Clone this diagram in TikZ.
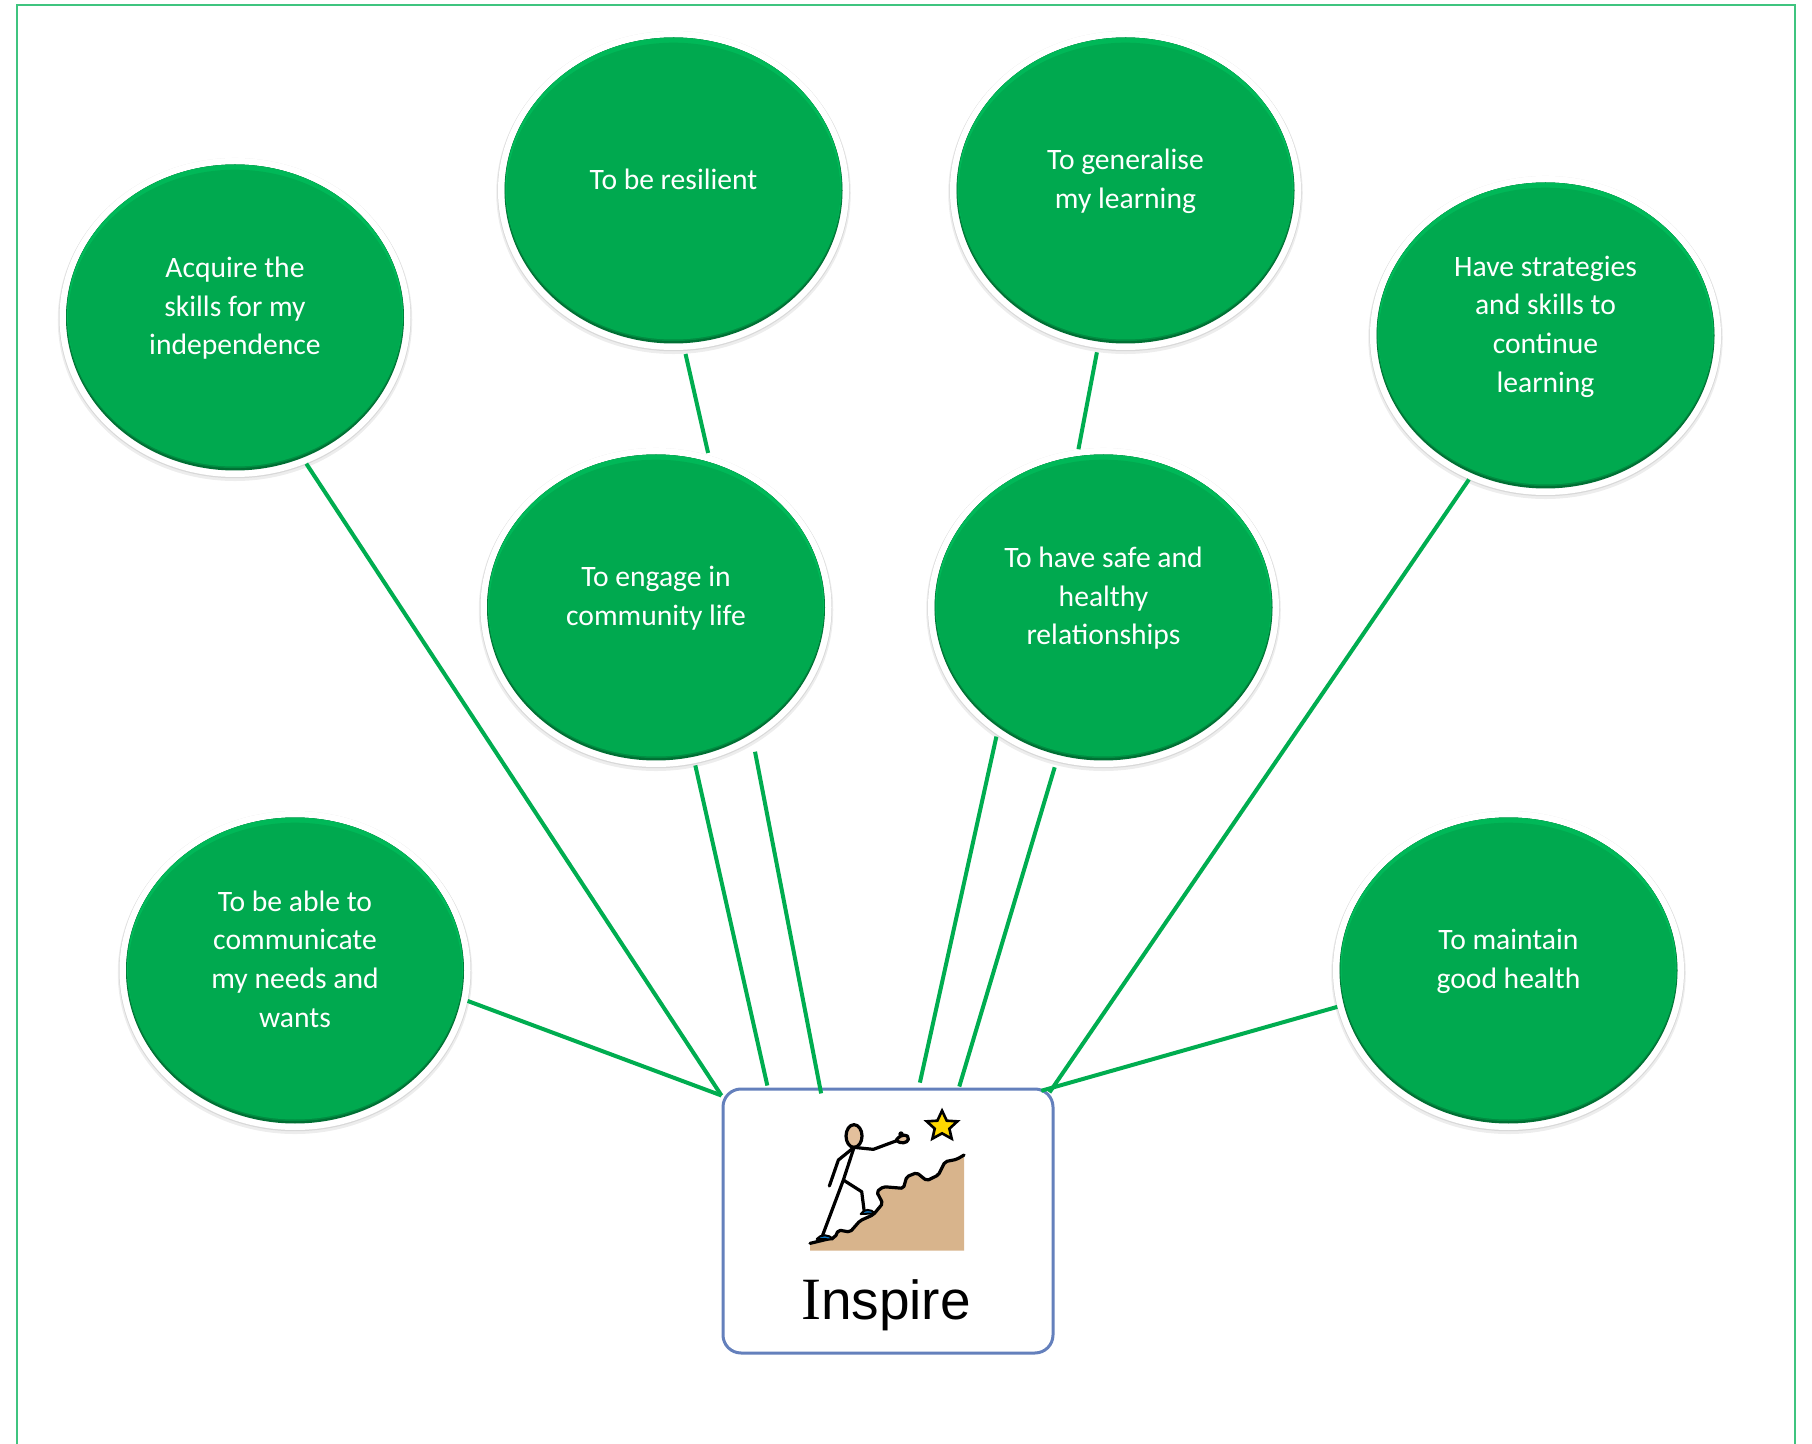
\documentclass[tikz,border=0pt]{standalone}
\usepackage{fontspec}
\setmainfont{Carlito}
\newfontfamily\inspirefont{Liberation Sans}
\newfontfamily\inspireI{Liberation Serif}
\usetikzlibrary{shapes.geometric,shadows,shapes.misc}
\definecolor{gmain}{HTML}{00A94F}
\definecolor{glight}{HTML}{00B858}
\definecolor{gdark}{HTML}{006F33}
\definecolor{gmid}{HTML}{008C41}
\definecolor{link}{HTML}{00AD50}
\definecolor{framec}{HTML}{3FC47F}
\definecolor{boxc}{HTML}{6480BC}
\definecolor{tan}{HTML}{D8B48C}
\definecolor{skin}{HTML}{E3C09C}
\definecolor{shoe}{HTML}{0A78C8}
\definecolor{stargold}{HTML}{FFD800}
\newcommand{\bubtext}[1]{\raisebox{0pt}[\height][\dimexpr\depth+9pt\relax]{\begin{tabular}{@{}c@{}}#1\end{tabular}}}
\tikzset{
  x=0.5pt,y=-0.5pt,
  bubble/.style={ellipse,inner sep=0pt,minimum width=175.5pt,minimum height=159.5pt,
    fill=white,text=white,font=\fontsize{14.8}{19.35}\selectfont,
    drop shadow={shadow xshift=0pt,shadow yshift=-1.2pt,shadow scale=1.01,opacity=.07,fill=black},
    drop shadow={shadow xshift=0pt,shadow yshift=-.3pt,shadow scale=1.004,opacity=.09,fill=black},
    path picture={
      \coordinate (pc) at (path picture bounding box.center);
      \fill[gdark] (pc) ellipse [x radius=84.5pt,y radius=76.5pt];
      \fill[gmid] ([yshift=.6pt]pc) ellipse [x radius=84.3pt,y radius=75.9pt];
      \fill[glight] ([yshift=1.2pt]pc) ellipse [x radius=84pt,y radius=75.3pt];
      \fill[gmain] ([yshift=-.3pt]pc) ellipse [x radius=83.5pt,y radius=74.2pt];
    }},
  hub/.style={rectangle,rounded corners=9pt,draw=boxc,line width=1.5pt,fill=white,
    inner sep=0pt,minimum width=165pt,minimum height=132pt},
  linkline/.style={draw=link,line width=2pt},
  sketch/.style={draw=black,line width=1.6pt,line cap=round,line join=round},
  framel/.style={draw=framec,line width=1pt}
}
\begin{document}
\begin{tikzpicture}
\useasboundingbox (0,0) rectangle (1812,1444);
\draw[framel] (17,1444) -- (17,5) -- (1795,5) -- (1795,1444);

\node[bubble] (acq) at (235,317.5) {\bubtext{Acquire the\\skills for my\\independence}};
\node[bubble] (res) at (673.5,190.5) {\bubtext{To be resilient}};
\node[bubble] (gen) at (1125.5,190.5) {\bubtext{To generalise\\my learning}};
\node[bubble] (str) at (1545.5,335.5) {\bubtext{Have strategies\\and skills to\\continue\\learning}};
\node[bubble] (eng) at (656,607.5) {\bubtext{To engage in\\community life}};
\node[bubble] (saf) at (1103.5,607.5) {\bubtext{To have safe and\\healthy\\relationships}};
\node[bubble] (com) at (295,970.5) {\bubtext{To be able to\\communicate\\my needs and\\wants}};
\node[bubble] (mai) at (1508.5,970.5) {\bubtext{To maintain\\good health}};
\node[hub] (hub) at (888,1221) {};

\draw[linkline] (acq.-64.2) -- (hub.143.1);
\draw[linkline] (com.-10.7) -- (hub.143.1);
\draw[linkline,shorten <=1pt,shorten >=1pt] (eng.-76.4) -- (hub.132.75);
\draw[linkline,shorten <=5.5pt,shorten >=-3pt] (eng.-54.2) -- (hub.117.2);
\draw[linkline,shorten <=1pt,shorten >=2.5pt] (saf.-130) -- (hub.77.3);
\draw[linkline,shorten <=3pt,shorten >=.5pt] (saf.-107) -- (hub.62.3);
\draw[linkline,shorten >=-3pt] (str.-118.5) -- (hub.39.5);
\draw[linkline,shorten >=-6pt] (mai.192.7) -- (hub.39);
\draw[linkline,shorten <=2pt,shorten >=1pt] (res.-86.4) -- (eng.71.2);
\draw[linkline,shorten <=2pt] (gen.-100.7) -- (saf.99.4);

% climber pictogram (coordinates follow a 3x crop with origin 700,1060)
\begin{scope}[shift={(700,1060)},x=0.1667pt,y=-0.1667pt]
  \fill[tan] (330,552) -- (405,532) -- (415,510) -- (450,516) -- (480,482) -- (520,464) -- (548,430)
     -- (530,395) -- (550,380) -- (610,385) -- (620,350) -- (650,338) -- (680,362) -- (715,345)
     -- (735,305) -- (770,298) -- (792,285) -- (792,572) -- (330,572) -- cycle;
  \draw[sketch,rounded corners=1pt] (330,550) -- (405,532) -- (415,510) -- (450,516) -- (480,482) -- (520,464) -- (548,430)
     -- (530,395) -- (550,380) -- (610,385) -- (620,350) -- (650,338) -- (680,362) -- (715,345)
     -- (735,305) -- (770,298) -- (792,285);
  \draw[sketch,fill=skin] (462,228) ellipse [x radius=24,y radius=34];
  \draw[sketch] (462,262) -- (430,360) -- (368,525);
  \draw[sketch] (430,360) -- (485,395) -- (492,450);
  \draw[sketch] (462,262) -- (415,300) -- (388,378);
  \draw[sketch] (462,262) -- (520,268) -- (590,242);
  \draw[sketch,fill=skin] (590,238) .. controls (600,222) and (628,220) .. (625,238) .. controls (622,250) and (600,252) .. (590,242) -- cycle;
  \fill[black] (603,222) circle [radius=8];
  \draw[sketch,fill=shoe,line width=1pt] (350,537) .. controls (360,522) and (390,522) .. (398,538) -- cycle;
  \draw[sketch,fill=shoe,line width=1pt] (482,462) .. controls (490,446) and (515,446) .. (524,460) -- cycle;
  \draw[sketch,fill=stargold,line join=miter,line width=1.3pt] (726,152)
    -- (740,182) -- (772,184) -- (748,206) -- (755,236) -- (726,220) -- (697,236) -- (704,206) -- (680,184) -- (712,182) -- cycle;
\end{scope}
\node[inner sep=0pt,anchor=base,font=\fontsize{27.5}{32}\selectfont\inspirefont] (lbl) at (886,1319) {{\fontsize{30}{32}\inspireI I}nspire};
\end{tikzpicture}
\end{document}
